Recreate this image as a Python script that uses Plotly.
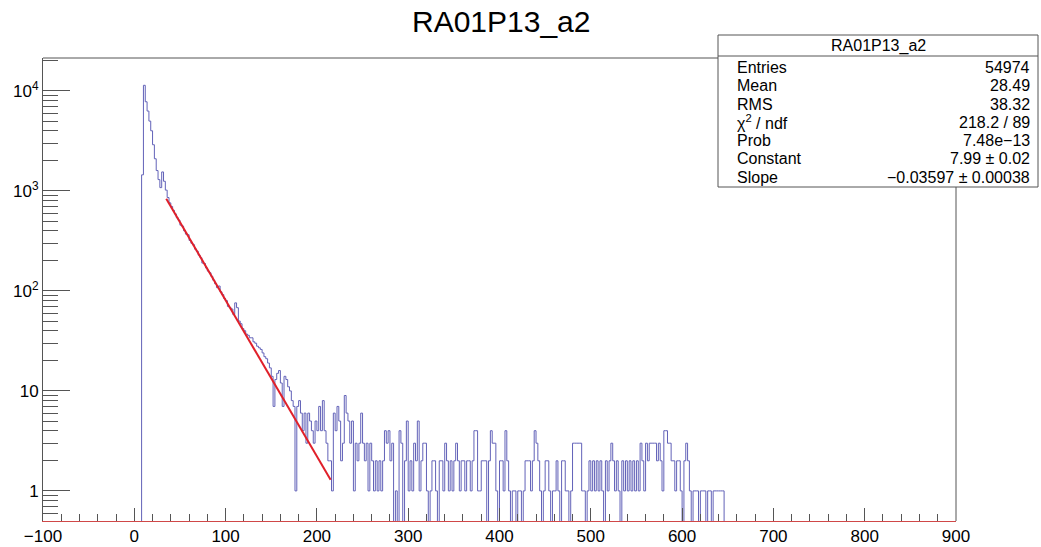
import numpy as np
import plotly.graph_objects as go

# ---------------- data ----------------
title_text = "RA01P13_a2"
bin_low, bin_high, bin_width = -100.0, 900.0, 2.0
first_filled_edge = 8.0
# counts of consecutive 2-unit bins starting at x = 8
counts_filled = [
    1450, 11400, 7800, 6300, 5000, 4000, 2900, 2100, 1600, 1300,   # 8-26
    1080, 1550, 1250, 1020, 860, 760, 700, 640, 590, 540,          # 28-46
    510, 455, 445, 400, 370, 365, 320, 300, 290, 262,              # 48-66
    250, 228, 215, 190, 188, 170, 158, 152, 140, 128,              # 68-86
    118, 108, 112, 98, 92, 84, 80, 70, 68, 66,                     # 88-106
    58, 76, 68, 50, 47, 42, 40, 37, 36, 34,                        # 108-126
    34, 31, 30, 28, 27, 26, 24, 22, 21, 19,                        # 128-146
    17, 14, 7, 13, 15, 16, 12, 7, 14, 13,                          # 148-166
    11, 10, 8, 7, 1, 7, 8, 6, 4, 6,                                # 168-186
    3, 6, 5, 4, 3, 5, 4, 7, 4, 8,                                  # 188-206
    4, 3, 2, 2, 1, 6, 4, 7, 5, 2,                                  # 208-226
    3, 9, 6, 5, 3, 5, 1, 3, 2, 3,                                  # 228-246
    6, 3, 2, 3, 1, 3, 2, 1, 2, 1,                                  # 248-266
    2, 1, 2, 4, 3, 4, 2, 3, 0, 1,                                  # 268-286
    0, 4, 3, 0, 2, 5, 1, 2, 1, 3,                                  # 288-306
    2, 5, 1, 2, 3, 3, 1, 0, 1, 2,                                  # 308-326
    2, 1, 0, 2, 2, 1, 3, 2, 1, 2,                                  # 328-346
    1, 2, 3, 2, 1, 2, 2, 1, 2, 2,                                  # 348-366
    1, 2, 4, 4, 1, 1, 2, 2, 2, 0,                                  # 368-386
    2, 4, 3, 3, 1, 0, 2, 2, 1, 4,                                  # 388-406
    2, 1, 0, 1, 1, 0, 1, 1, 0, 1,                                  # 408-426
    2, 2, 2, 1, 2, 4, 3, 2, 1, 0,                                  # 428-446
    1, 2, 2, 1, 0, 1, 1, 2, 1, 0,                                  # 448-466
    2, 2, 1, 1, 0, 1, 3, 3, 3, 3,                                  # 468-486
    3, 1, 1, 0, 1, 2, 1, 2, 1, 2,                                  # 488-506
    1, 2, 1, 0, 2, 1, 2, 3, 2, 1,                                  # 508-526
    2, 1, 0, 2, 1, 2, 1, 2, 1, 2,                                  # 528-546
    1, 2, 1, 3, 2, 1, 3, 2, 3, 3,                                  # 548-566
    3, 3, 2, 3, 2, 1, 4, 4, 3, 3,                                  # 568-586
    2, 2, 1, 2, 2, 1, 0, 2, 3, 2,                                  # 588-606
    1, 0, 1, 1, 1, 0, 1, 1, 1, 0,                                  # 608-626
    1, 1, 0, 1, 1, 1, 1, 1, 1,                                     # 628-644
]

fit_constant = 7.99
fit_slope = -0.03597
fit_range = [35.0, 215.0]

stats_labels = ["Entries", "Mean", "RMS", "χ<sup>2</sup> / ndf", "Prob", "Constant", "Slope"]
stats_values = ["54974", "28.49", "38.32", "218.2 / 89", "7.48e\u221213",
                "7.99 \u00b1 0.02", "\u22120.03597 \u00b1 0.00038"]

x_tick_vals = [-100, 0, 100, 200, 300, 400, 500, 600, 700, 800, 900]
x_tick_text = ["\u2212100", "0", "100", "200", "300", "400", "500", "600", "700", "800", "900"]
y_tick_vals = [1, 10, 100, 1000, 10000]
y_tick_text = ["1", "10", "10<sup>2</sup>", "10<sup>3</sup>", "10<sup>4</sup>"]

# ---------------- build histogram ----------------
nbins = int(round((bin_high - bin_low) / bin_width))
edges = np.linspace(bin_low, bin_high, nbins + 1)
counts = np.zeros(nbins)
start = int(round((first_filled_edge - bin_low) / bin_width))
counts[start:start + len(counts_filled)] = counts_filled
floor = 0.05  # empty bins drawn below the visible range (as ROOT does on log scale)
y_draw = np.where(counts > 0, counts, floor)
x_step = edges
y_step = np.append(y_draw, y_draw[-1])

fit_x = np.array(fit_range)
fit_y = np.exp(fit_constant + fit_slope * fit_x)

# ---------------- geometry helpers (page pixels -> paper) ----------------
W, H = 1041, 547
L, R, T, B = 43, 956, 58, 521
def px(xp):
    return (xp - L) / (R - L)
def py(yp):
    return (B - yp) / (B - T)

fig = go.Figure()
fig.add_trace(go.Scatter(x=x_step, y=y_step, mode="lines", line_shape="hv",
                         line=dict(color="#6262b8", width=1), hoverinfo="skip"))
fig.add_trace(go.Scatter(x=fit_x, y=fit_y, mode="lines",
                         line=dict(color="#e0202a", width=2), hoverinfo="skip"))

y_minor = []
for n in range(-1, 5):
    for k in range(2, 10):
        v = k * 10.0 ** n
        if 0.5 <= v <= 21000:
            y_minor.append(v)

axis_font = dict(family="Liberation Sans, Arial, sans-serif", size=17, color="#000")
fig.update_xaxes(range=[-100, 900], tickmode="array", tickvals=x_tick_vals, ticktext=x_tick_text,
                 ticks="inside", ticklen=13, tickcolor="#555", tickwidth=1,
                 minor=dict(ticks="inside", ticklen=7, dtick=20, tick0=0, tickcolor="#555", showgrid=False),
                 showline=True, linecolor="#d04848", linewidth=1, automargin=False,
                 showgrid=False, zeroline=False, tickfont=axis_font)
fig.update_yaxes(type="log", range=[np.log10(0.5), 4.33], tickmode="array",
                 tickvals=y_tick_vals, ticktext=y_tick_text,
                 ticks="inside", ticklen=27, tickcolor="#555", tickwidth=1,
                 minor=dict(ticks="inside", ticklen=15, tickmode="array", tickvals=y_minor,
                            tickcolor="#555", showgrid=False),
                 showline=True, linecolor="#555", linewidth=1, automargin=False,
                 showgrid=False, zeroline=False, tickfont=axis_font)

shapes = [
    dict(type="line", xref="paper", yref="paper", x0=0, x1=1, y0=1, y1=1, line=dict(color="#555", width=1)),
    dict(type="line", xref="paper", yref="paper", x0=1, x1=1, y0=0, y1=1, line=dict(color="#555", width=1)),
    # stats box
    dict(type="rect", xref="paper", yref="paper", x0=px(718), x1=px(1038), y0=py(187), y1=py(35),
         line=dict(color="#555", width=1), fillcolor="white"),
    dict(type="line", xref="paper", yref="paper", x0=px(718), x1=px(1038), y0=py(56), y1=py(56),
         line=dict(color="#555", width=1)),
]

stats_font = dict(family="Liberation Sans, Arial, sans-serif", size=16, color="#000")
annotations = [
    dict(text=title_text, xref="paper", yref="paper", x=px(501), y=py(21), showarrow=False,
         xanchor="center", yanchor="middle",
         font=dict(family="Liberation Sans, Arial, sans-serif", size=30, color="#000")),
    dict(text=title_text, xref="paper", yref="paper", x=px(878), y=py(46), showarrow=False,
         xanchor="center", yanchor="middle", font=stats_font),
]
row_y = [67, 85.5, 104, 122, 140.5, 159, 177.5]
for lab, val, yy in zip(stats_labels, stats_values, row_y):
    annotations.append(dict(text=lab, xref="paper", yref="paper", x=px(735), y=py(yy), showarrow=False,
                            xanchor="left", yanchor="middle", font=stats_font))
    annotations.append(dict(text=val, xref="paper", yref="paper", x=px(1032), y=py(yy), showarrow=False,
                            xanchor="right", yanchor="middle", font=stats_font))

fig.update_layout(width=W, height=H, margin=dict(l=L, r=W - R, t=T, b=H - B, autoexpand=False),
                  paper_bgcolor="white", plot_bgcolor="white", showlegend=False,
                  shapes=shapes, annotations=annotations,
                  font=dict(family="Liberation Sans, Arial, sans-serif", color="#000"))

fig.write_html("out.html", config={"displayModeBar": False, "staticPlot": True},
               post_script="document.body.style.margin='0px';document.body.style.overflow='hidden';")
